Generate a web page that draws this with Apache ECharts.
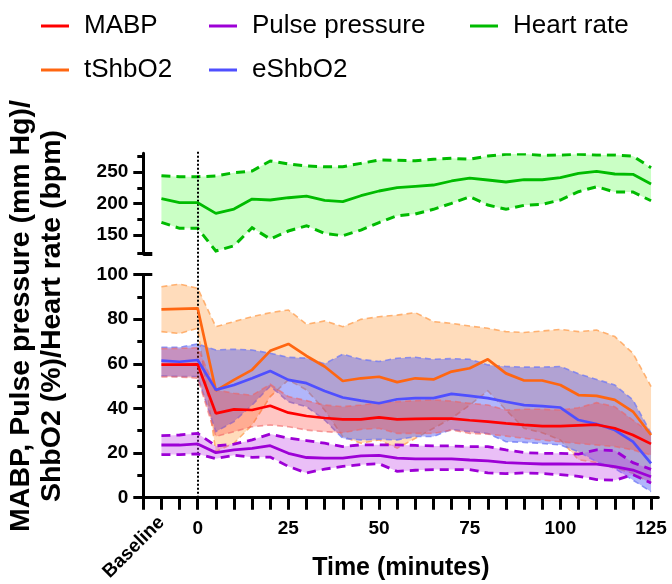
<!DOCTYPE html>
<html><head><meta charset="utf-8">
<script src="https://cdn.jsdelivr.net/npm/echarts@6/dist/echarts.min.js"></script>
<style>html,body{margin:0;padding:0;background:#fff}#c{width:672px;height:584px}</style>
</head><body><div id="c"></div>
<script>
// ---- data (minutes; baseline points at -10 and -5) ----
const time = [-10,-5,0,5,10,15,20,25,30,35,40,45,50,55,60,65,70,75,80,85,90,95,100,105,110,115,120,125];

const mabpMean  = [59.6,59.6,59.7,37.8,39.6,39.3,41.2,38.1,36.6,35.7,35.1,35.1,36.0,35.1,35.3,35.4,35.4,34.7,34.1,33.3,32.6,32.1,32.1,32.4,32.7,31.1,28.1,24.1];
const mabpUpper = [66.8,66.9,67.2,48.3,46.8,45.9,50.8,45.3,43.5,41.5,40.8,41.5,42.6,43.0,43.5,43.8,43.3,42.3,41.5,39.3,39.6,39.6,39.3,40.3,42.6,40.8,34.8,28.8];
const mabpLower = [54.1,54.1,53.5,27.4,29.6,31.8,32.6,31.8,30.3,29.6,29.1,30.6,31.1,28.8,28.8,28.8,30.3,28.8,28.5,27.6,26.6,25.8,25.1,24.3,23.6,22.9,21.4,19.1];

const ppMean  = [23.6,23.6,24.1,20.2,21.4,22.1,23.3,19.9,18.0,17.7,17.7,18.7,19.0,17.7,17.4,17.4,17.4,16.9,16.5,15.7,15.4,15.1,15.1,15.0,15.0,13.9,12.4,9.4];
const ppUpper = [27.8,28.1,28.8,23.2,24.0,25.9,28.5,26.7,25.6,24.4,22.9,23.7,23.7,23.7,23.4,23.2,23.2,22.9,22.9,21.4,20.2,19.9,19.9,19.5,21.4,21.1,15.7,12.7];
const ppLower = [19.3,19.3,19.6,17.5,19.0,18.1,18.2,14.0,11.1,12.8,14.0,14.8,15.2,11.8,12.3,12.6,12.6,12.6,11.1,10.8,11.1,10.8,10.3,9.6,8.1,7.8,10.3,6.6];

const hrMean  = [207.8,201.5,201.5,184.6,191.4,207.3,205.8,209.4,212.1,205.3,203.1,212.6,220.1,225.4,227.5,229.6,236.0,240.7,237.6,234.4,238.0,238.0,241.2,248.2,251.4,247.1,246.6,231.2];
const hrUpper = [244.4,242.8,242.8,243.9,249.2,251.9,267.8,263.0,259.8,258.7,258.7,264.0,269.3,268.9,268.2,270.5,272.0,270.5,275.7,278.4,278.9,276.8,277.3,278.4,277.3,277.3,275.7,257.1];
const hrLower = [170.3,160.8,160.8,124.7,133.1,161.7,143.8,156.5,164.9,152.8,149.0,158.0,170.0,180.8,183.5,191.0,200.5,211.0,197.8,191.0,197.3,198.9,205.8,219.0,226.9,218.5,218.5,204.6];

const tMean  = [84.4,84.6,84.8,48.0,52.8,57.3,65.8,68.9,63.5,58.8,52.3,53.5,54.2,51.8,53.5,53.0,56.5,58.0,62.0,55.7,52.5,52.5,50.5,46.0,45.6,43.8,38.6,28.1];
const tUpper = [94.5,95.7,93.8,76.6,78.9,81.1,82.9,84.1,77.7,79.2,76.6,79.9,81.1,81.8,82.9,78.9,78.1,76.9,75.9,74.4,74.0,74.7,75.4,74.4,75.1,72.2,64.7,49.8];
const tLower = [74.4,73.6,75.9,20.7,24.4,32.6,45.3,52.8,48.3,39.3,27.4,24.4,25.9,22.2,26.6,31.1,35.6,41.5,47.9,39.3,31.1,29.1,25.9,17.0,15.8,13.3,11.0,6.5];

const eMean  = [61.4,60.9,61.7,48.3,50.5,53.5,56.8,52.8,51.3,47.8,44.9,43.5,42.3,44.1,44.6,44.6,46.5,45.6,44.6,43.0,41.5,41.0,40.4,34.8,33.0,30.3,25.1,15.4];
const eUpper = [67.4,67.4,68.9,66.2,66.5,66.2,64.7,62.9,62.5,60.0,64.3,62.0,61.0,62.5,62.9,62.0,62.3,62.0,59.5,58.8,58.5,58.5,58.8,55.5,53.0,50.5,43.8,28.8];
const eLower = [54.6,54.3,54.3,29.6,34.1,41.5,50.0,43.0,40.8,34.8,26.6,25.9,26.2,25.9,27.4,27.4,30.6,29.6,28.8,25.1,24.8,24.3,23.6,20.6,16.1,13.1,7.9,2.7];

const xTicks = [-15,-10,-5,0,5,10,15,20,25,30,35,40,45,50,55,60,65,70,75,80,85,90,95,100,105,110,115,120,125];
const xLabels = [0,25,50,75,100,125];
const yTopLabels = [150,200,250];
const yTopMinor = [121,175,225,275];
const yBottomLabels = [0,20,40,60,80,100];

// ---- helpers ----
const FONT = "'Liberation Sans', Arial, Helvetica, sans-serif";
const pairs = v => time.map((t,i)=>[t,v[i]]);

function band(key, lower, upper, xi, yi, fill, ls, z){
  return {
    type:'custom', name:key+'_band', xAxisIndex:xi, yAxisIndex:yi, silent:true, z:z, clip:true,
    data:[[time[0], lower[0]]], encode:{x:0, y:1},
    renderItem:function(params, api){
      const up = time.map((t,i)=>api.coord([t, upper[i]]));
      const lo = time.map((t,i)=>api.coord([t, lower[i]]));
      const poly = up.concat(lo.slice().reverse());
      const lineSt = {fill:null, stroke:ls.color, lineWidth:ls.width, lineDash:ls.dash};
      return {type:'group', children:[
        {type:'polygon', shape:{points:poly}, style:{fill:fill, stroke:null}},
        {type:'polyline', shape:{points:up}, style:lineSt},
        {type:'polyline', shape:{points:lo}, style:lineSt}
      ]};
    }
  };
}
function mean(name, v, xi, yi, color, w){
  return {type:'line', name:name, xAxisIndex:xi, yAxisIndex:yi, data:pairs(v), symbol:'none',
    color:color, lineStyle:{color:color, width:w||2.7}, silent:true, z:10};
}

const C = {mabp:'#ff0000', pp:'#9d00d6', hr:'#00bb00', t:'#ff6611', e:'#4f4fff'};

const series = [
  band('hr', hrLower, hrUpper, 0, 0, 'rgba(60,255,40,0.27)', {dash:[9,6], width:3, color:'#00bb00'}, 3),
  band('t', tLower, tUpper, 1, 3, 'rgba(255,150,50,0.33)', {dash:[6,4], width:1.6, color:'rgba(255,170,100,0.9)'}, 3),
  band('e', eLower, eUpper, 1, 3, 'rgba(70,80,245,0.42)', {dash:[6,4], width:1.6, color:'rgba(110,120,245,0.75)'}, 4),
  band('m', mabpLower, mabpUpper, 1, 3, 'rgba(255,50,40,0.28)', {dash:[6,4], width:1.6, color:'rgba(240,100,100,0.6)'}, 5),
  band('p', ppLower, ppUpper, 1, 3, 'rgba(190,60,230,0.33)', {dash:[9,6], width:2.8, color:'#9d00d6'}, 6),
  mean('Heart rate', hrMean, 0, 0, C.hr, 2.8),
  mean('tShbO2', tMean, 1, 3, C.t),
  mean('eShbO2', eMean, 1, 3, C.e),
  mean('MABP', mabpMean, 1, 3, C.mabp),
  mean('Pulse pressure', ppMean, 1, 3, C.pp, 2.8),
  {type:'line', name:'ref', xAxisIndex:3, yAxisIndex:5, data:[[0,0]], symbol:'none',
   lineStyle:{opacity:0}, silent:true, z:20,
   markLine:{silent:true, symbol:'none', animation:false, label:{show:false},
     lineStyle:{type:'dotted', color:'#000', width:2},
     data:[{xAxis:0}]}}
];

const gridL = 143.3, gridR = 672 - 658.3;
const axisLineStyle = {color:'#000', width:3};
const tickLabel = {color:'#000', fontSize:19, fontWeight:'bold', fontFamily:FONT};
const hiddenLine = {show:false, onZero:false};

function leg(name, left, top){
  return {data:[name], left:left, top:top, padding:0, icon:'rect', itemWidth:28, itemHeight:3,
    selectedMode:false, textStyle:{fontSize:26, color:'#000', fontFamily:FONT, padding:[0,0,0,10]}};
}

const option = {
  animation:false,
  backgroundColor:'#fff',
  legend:[
    leg('MABP', 41, 13), leg('Pulse pressure', 209, 13), leg('Heart rate', 470, 13),
    leg('tShbO2', 41, 57), leg('eShbO2', 209, 57)
  ],
  grid:[
    {left:gridL, right:gridR, top:153.3, height:100.7, outerBoundsMode:'none', containLabel:false},
    {left:gridL, right:gridR, top:274.5, height:223.2, outerBoundsMode:'none', containLabel:false},
    {left:gridL, right:gridR, top:151, height:346.7, outerBoundsMode:'none', containLabel:false}
  ],
  xAxis:[
    {gridIndex:0, type:'value', min:-15, max:127, show:false},
    {gridIndex:1, type:'value', min:-15, max:127, position:'bottom',
     axisLine:{show:true, onZero:false, lineStyle:axisLineStyle},
     axisTick:{show:true, length:12, lineStyle:{color:'#000', width:3}, customValues:xTicks},
     axisLabel:{...tickLabel, margin:22, customValues:xLabels},
     splitLine:{show:false},
     name:'Time (minutes)', nameLocation:'middle', nameGap:58,
     nameTextStyle:{color:'#000', fontSize:25, fontWeight:'bold', fontFamily:FONT}},
    {gridIndex:1, type:'value', min:-15, max:127, position:'bottom',
     axisLine:hiddenLine, axisTick:{show:false}, splitLine:{show:false},
     axisLabel:{...tickLabel, margin:22, rotate:45, customValues:[-10], formatter:()=> 'Baseline'}},
    {gridIndex:2, type:'value', min:-15, max:127, show:false}
  ],
  yAxis:[
    {gridIndex:0, type:'value', min:120, max:280, position:'left',
     axisLine:{show:true, onZero:false, lineStyle:axisLineStyle},
     axisTick:{show:true, length:10, lineStyle:{color:'#000', width:3}, customValues:yTopLabels},
     axisLabel:{...tickLabel, margin:15, customValues:yTopLabels},
     splitLine:{show:false}},
    {gridIndex:0, type:'value', min:120, max:280, position:'left',
     axisLine:hiddenLine, axisLabel:{show:false}, splitLine:{show:false},
     axisTick:{show:true, length:6, lineStyle:{color:'#000', width:3}, customValues:yTopMinor}},
    {gridIndex:0, type:'value', min:120, max:280, position:'left',
     axisLine:hiddenLine, axisLabel:{show:false}, splitLine:{show:false},
     axisTick:{show:true, inside:true, length:9, lineStyle:{color:'#000', width:4}, customValues:[121]}},
    {gridIndex:1, type:'value', min:0, max:100, interval:20, position:'left',
     axisLine:{show:true, onZero:false, lineStyle:axisLineStyle},
     axisTick:{show:true, length:10, lineStyle:{color:'#000', width:3}},
     minorTick:{show:true, splitNumber:2, length:6, lineStyle:{color:'#000', width:3}},
     axisLabel:{...tickLabel, margin:15, customValues:yBottomLabels},
     splitLine:{show:false}, minorSplitLine:{show:false}},
    {gridIndex:1, type:'value', min:0, max:100, position:'left',
     axisLine:hiddenLine, axisLabel:{show:false}, splitLine:{show:false},
     axisTick:{show:true, inside:true, length:9, lineStyle:{color:'#000', width:3}, customValues:[100]}},
    {gridIndex:2, type:'value', min:0, max:1, show:false}
  ],
  graphic:[{
    type:'text', x:37, y:316, rotation:Math.PI/2,
    style:{text:'MABP, Pulse pressure (mm Hg)/\nShbO2 (%)/Heart rate (bpm)',
      fill:'#000', fontSize:28.5, fontWeight:'bold', fontFamily:FONT, lineHeight:31,
      align:'center', verticalAlign:'middle'}
  }],
  series:series
};

const chart = echarts.init(document.getElementById('c'), null, {renderer:'canvas'});
chart.setOption(option);
</script>
</body></html>
